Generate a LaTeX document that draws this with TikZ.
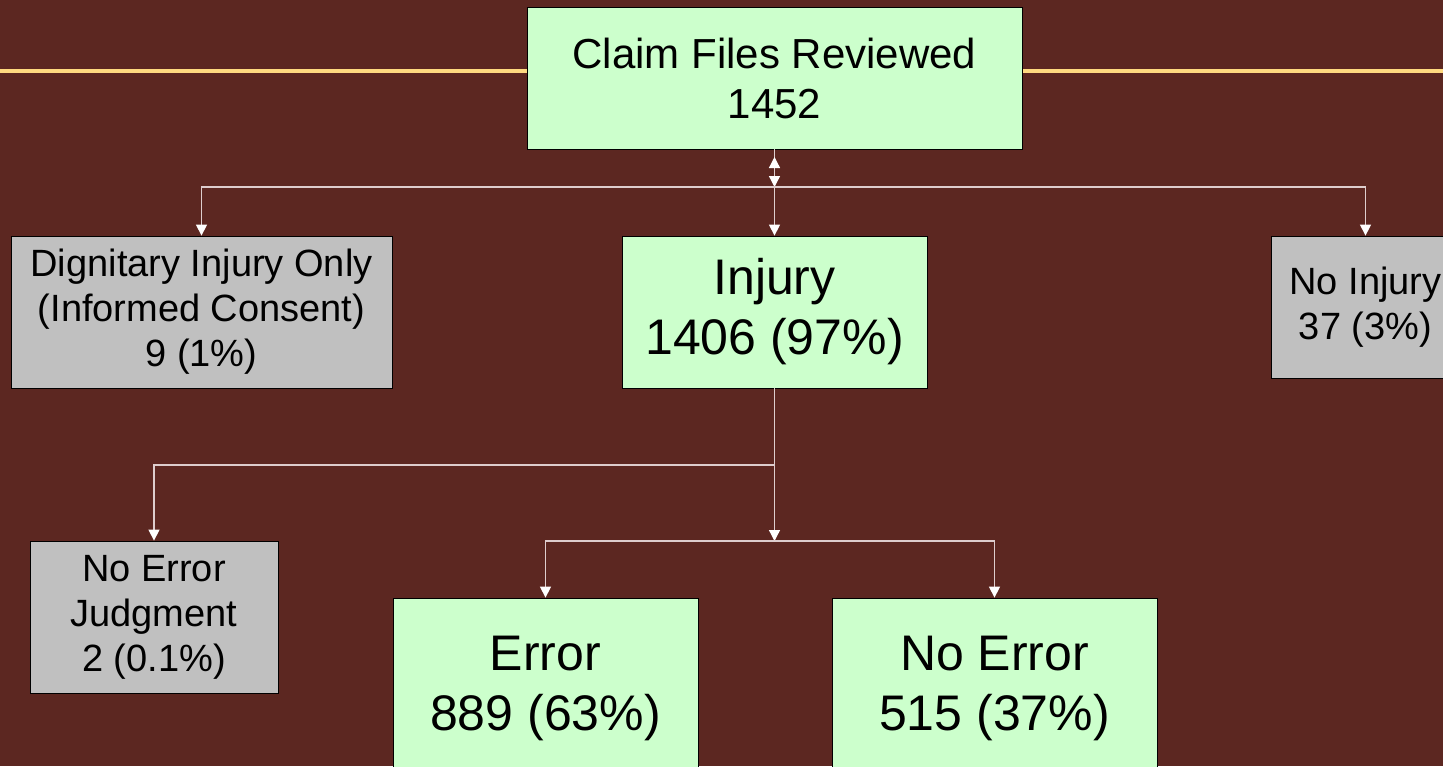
\documentclass[tikz,border=0pt]{standalone}
\usepackage{fontspec}
\setmainfont{Liberation Sans}
\usetikzlibrary{arrows.meta}
\definecolor{bgc}{RGB}{92,39,33}
\definecolor{goldc}{RGB}{255,217,128}
\definecolor{greenc}{RGB}{204,255,204}
\definecolor{grayc}{RGB}{192,192,192}
\definecolor{linec}{RGB}{222,205,205}
\tikzset{
  box/.style={draw=black, line width=0.8pt, inner sep=0pt, align=center, text=black},
  gbox/.style={box, fill=greenc},
  ybox/.style={box, fill=grayc},
  conn/.style={draw=linec, line width=1.3pt, -{Triangle[width=11pt,length=11pt,color=white]}},
  fa/.style={font=\fontsize{42}{50}\selectfont},
  fb/.style={font=\fontsize{50}{60}\selectfont},
  fc/.style={font=\fontsize{38}{45}\selectfont},
}
\begin{document}
\begin{tikzpicture}[x=1pt,y=-1pt]
\clip (0,0) rectangle (1443,766);
\fill[bgc] (0,0) rectangle (1443,766);
\draw[goldc, line width=4pt] (0,71) -- (1443,71);

\node[gbox, fa, minimum width=495pt, minimum height=142pt] (top) at (774.5,78) {Claim Files Reviewed\\1452};
\node[gbox, fb, minimum width=305pt, minimum height=152pt] (injury) at (774.5,312) {Injury\\1406 (97\%)};
\node[ybox, fc, minimum width=381pt, minimum height=152pt] (dig) at (201.5,312) {Dignitary Injury Only\\(Informed Consent)\\9 (1\%)};
\node[ybox, fc, minimum width=189pt, minimum height=142pt] (noinj) at (1365.5,307) {No Injury\\37 (3\%)};
\node[ybox, fc, minimum width=248pt, minimum height=152pt] (noerrj) at (154,617) {No Error\\Judgment\\2 (0.1\%)};
\node[gbox, fb, minimum width=305pt, minimum height=180pt] (error) at (545.5,688) {Error\\889 (63\%)};
\node[gbox, fb, minimum width=325pt, minimum height=180pt] (noerror) at (994.5,688) {No Error\\515 (37\%)};

\coordinate (ua) at (774.5,157);
\coordinate (j1) at (774.5,187);
\coordinate (j2) at (774.5,465);
\coordinate (j3) at (774.5,541);

\draw[conn] (top.south) -- (injury.north);
\draw[conn,{Triangle[width=11pt,length=11pt,color=white]}-{Triangle[width=11pt,length=11pt,color=white]}] (ua) -- (j1);
\draw[conn] (j1) -| (dig.north);
\draw[conn] (j1) -| (noinj.north);
\draw[conn] (injury.south) -- (j2) -| (noerrj.north);
\draw[conn] (j2) -- (j3);
\draw[conn] (j3) -| (error.north);
\draw[conn] (j3) -| (noerror.north);
\end{tikzpicture}
\end{document}
